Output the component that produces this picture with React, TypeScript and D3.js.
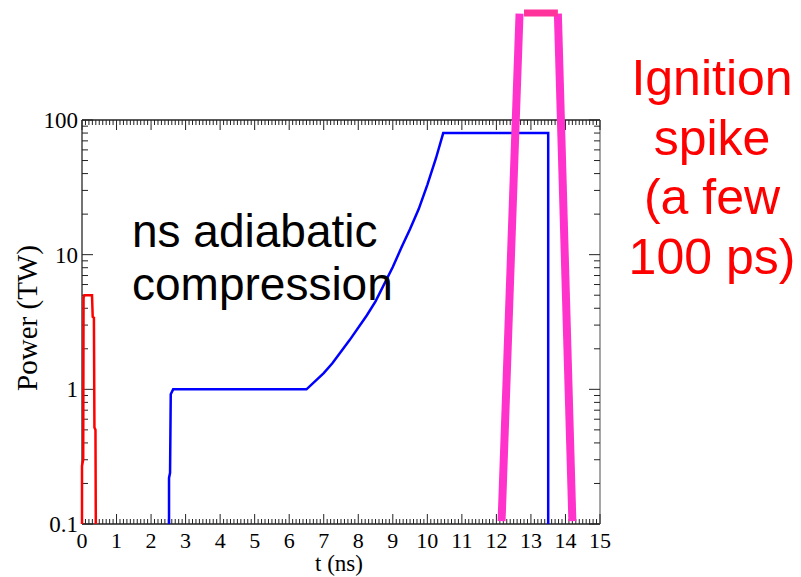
import React from "react";
import * as d3 from "d3";

const xTicks = [0, 1, 2, 3, 4, 5, 6, 7, 8, 9, 10, 11, 12, 13, 14, 15];
const yTicks = [0.1, 1, 10, 100];
const yTickLabels = ["0.1", "1", "10", "100"];

// red pre-pulse [t (ns), P (TW)]
const redPulse: [number, number][] = [
  [0.0, 0.1], [0.0, 0.27], [0.035, 0.3], [0.045, 4.8], [0.07, 5.0],
  [0.29, 5.0], [0.31, 3.45], [0.345, 3.4], [0.36, 0.52], [0.39, 0.5], [0.4, 0.1],
];

// blue main compression pulse
const bluePulse: [number, number][] = [
  [2.52, 0.1], [2.52, 0.22], [2.55, 0.24], [2.57, 0.92], [2.64, 1.0],
  [6.5, 1.0], [7.0, 1.32], [7.25, 1.56], [7.75, 2.32], [8.25, 3.55], [8.5, 4.5],
  [9.0, 8.1], [9.25, 11.3], [9.5, 15.5], [9.75, 21.8], [10.0, 33],
  [10.25, 52], [10.46, 80], [13.5, 80], [13.5, 0.1],
];

// pink ignition spike (drawn overlay, extends above frame)
const spikeLeft: [number, number][] = [[12.15, 0.105], [12.67, 617]];
const spikeTop: [number, number][] = [[12.8, 623], [13.78, 623]];
const spikeRight: [number, number][] = [[13.78, 617], [14.2, 0.105]];

const blackText = ["ns adiabatic", "compression"];
const redText = ["Ignition", "spike", "(a few", "100 ps)"];

export default function App() {
  const W = 801, H = 577;
  const L = 82, R = 600, T = 120, B = 524;
  const x = d3.scaleLinear().domain([0, 15]).range([L, R]);
  const y = d3.scaleLog().domain([0.1, 100]).range([B, T]);
  const line = d3.line<[number, number]>().x((d) => x(d[0])).y((d) => y(d[1]));

  const minorX = d3.range(0, 150).map((i) => i / 10).filter((v) => Math.abs(v - Math.round(v)) > 1e-6);
  const minorY: number[] = [];
  [0.1, 1, 10].forEach((dec) => {
    for (let k = 2; k <= 9; k++) minorY.push(dec * k);
  });

  const serif = "'Liberation Serif', 'Times New Roman', serif";
  const sans = "'Liberation Sans', Arial, sans-serif";
  const axisColor = "#222";

  return (
    <svg width={W} height={H} style={{ position: "absolute", left: 0, top: 0, background: "#fff" }}>
      <rect x={0} y={0} width={W} height={H} fill="#fff" />
      {/* frame */}
      <line x1={L} y1={T} x2={R} y2={T} stroke={axisColor} strokeWidth={1.5} />
      <line x1={L} y1={B} x2={R} y2={B} stroke={axisColor} strokeWidth={1.5} />
      <line x1={L} y1={T} x2={L} y2={B} stroke="#444" strokeWidth={1.5} />
      <line x1={R} y1={T} x2={R} y2={B} stroke="#888" strokeWidth={1.5} />
      {/* x ticks */}
      {xTicks.map((t) => (
        <g key={"xt" + t}>
          <line x1={x(t)} x2={x(t)} y1={B} y2={B - 10} stroke={axisColor} strokeWidth={1} />
          <line x1={x(t)} x2={x(t)} y1={T} y2={T + 10} stroke={axisColor} strokeWidth={1} />
          <text x={x(t)} y={548} textAnchor="middle" fontFamily={serif} fontSize={22} fill="#000">
            {t}
          </text>
        </g>
      ))}
      {minorX.map((t) => (
        <g key={"xm" + t}>
          <line x1={x(t)} x2={x(t)} y1={B} y2={B - 5} stroke={axisColor} strokeWidth={1} />
          <line x1={x(t)} x2={x(t)} y1={T} y2={T + 5} stroke={axisColor} strokeWidth={1} />
        </g>
      ))}
      {/* y ticks */}
      {yTicks.map((v, i) => (
        <g key={"yt" + v}>
          <line x1={L} x2={L + 11} y1={y(v)} y2={y(v)} stroke={axisColor} strokeWidth={1} />
          <line x1={R} x2={R - 11} y1={y(v)} y2={y(v)} stroke={axisColor} strokeWidth={1} />
          <text x={78} y={y(v)} dy="0.35em" textAnchor="end" fontFamily={serif} fontSize={23} fill="#000">
            {yTickLabels[i]}
          </text>
        </g>
      ))}
      {minorY.map((v) => (
        <g key={"ym" + v}>
          <line x1={L} x2={L + 6} y1={y(v)} y2={y(v)} stroke={axisColor} strokeWidth={1} />
          <line x1={R} x2={R - 6} y1={y(v)} y2={y(v)} stroke={axisColor} strokeWidth={1} />
        </g>
      ))}
      {/* axis labels */}
      <text x={339} y={571} textAnchor="middle" fontFamily={serif} fontSize={23} fill="#000">
        t (ns)
      </text>
      <text
        transform={`translate(37,318) rotate(-90)`}
        textAnchor="middle"
        fontFamily={serif}
        fontSize={29}
        fill="#000"
      >
        Power (TW)
      </text>
      {/* data */}
      <path d={line(redPulse) || ""} fill="none" stroke="#ff0000" strokeWidth={2.5} />
      <path d={line(bluePulse) || ""} fill="none" stroke="#0000ff" strokeWidth={2.5} />
      <path d={line(spikeLeft) || ""} fill="none" stroke="#ff33cc" strokeWidth={8} />
      <path d={line(spikeRight) || ""} fill="none" stroke="#ff33cc" strokeWidth={8} />
      <path d={line(spikeTop) || ""} fill="none" stroke="#ff3399" strokeWidth={7} />
      {/* annotations */}
      {blackText.map((s, i) => (
        <text key={s} x={132} y={247 + i * 53} fontFamily={sans} fontSize={46} fill="#000">
          {s}
        </text>
      ))}
      {redText.map((s, i) => (
        <text key={s} x={712} y={95 + i * 59.5} textAnchor="middle" fontFamily={sans} fontSize={50} fill="#ff0000">
          {s}
        </text>
      ))}
    </svg>
  );
}
